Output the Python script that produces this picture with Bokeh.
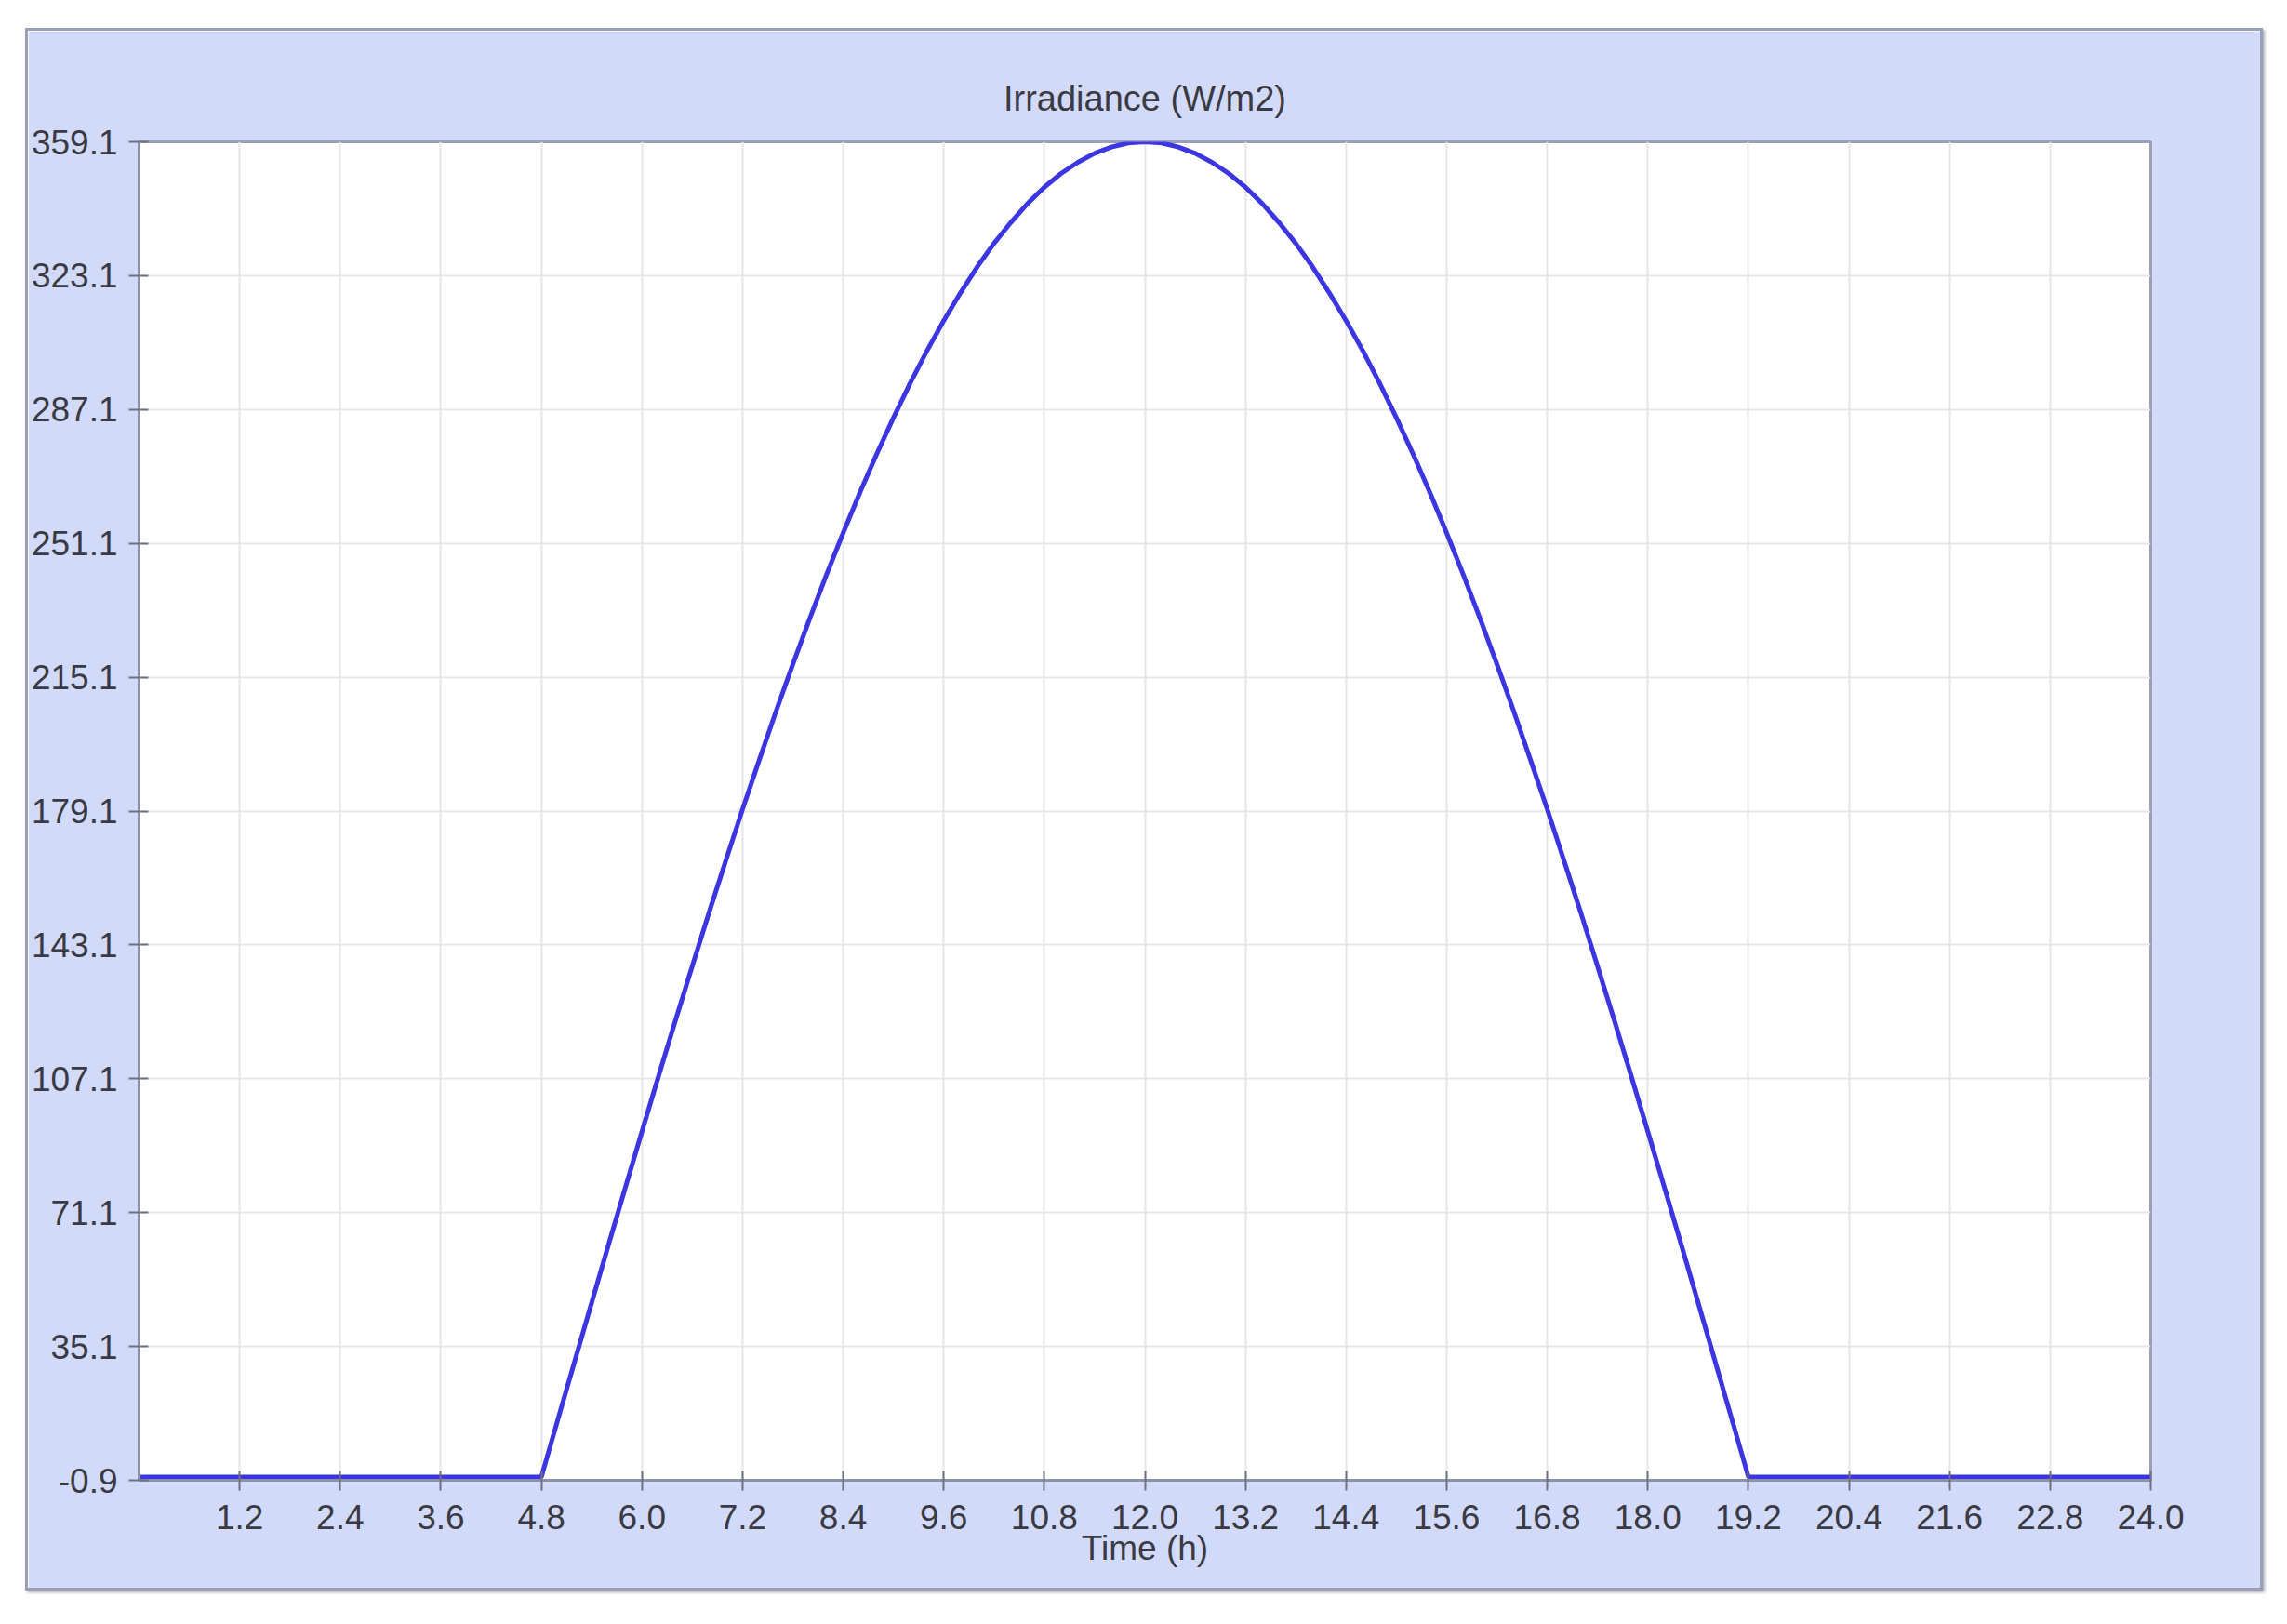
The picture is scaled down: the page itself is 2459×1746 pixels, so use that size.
from bokeh.plotting import figure
from bokeh.models import Range1d, FixedTicker
from bokeh.embed import file_html
from bokeh.resources import INLINE

# ---- data ----
hours = [0.0,
         4.8, 5.0, 5.2, 5.4, 5.6, 5.8, 6.0, 6.2, 6.4, 6.6, 6.8, 7.0, 7.2,
         7.4, 7.6, 7.8, 8.0, 8.2, 8.4, 8.6, 8.8, 9.0, 9.2, 9.4, 9.6, 9.8,
         10.0, 10.2, 10.4, 10.6, 10.8, 11.0, 11.2, 11.4, 11.6, 11.8, 12.0,
         12.2, 12.4, 12.6, 12.8, 13.0, 13.2, 13.4, 13.6, 13.8, 14.0, 14.2,
         14.4, 14.6, 14.8, 15.0, 15.2, 15.4, 15.6, 15.8, 16.0, 16.2, 16.4,
         16.6, 16.8, 17.0, 17.2, 17.4, 17.6, 17.8, 18.0, 18.2, 18.4, 18.6,
         18.8, 19.0, 19.2,
         24.0]
irradiance = [0,
              0, 15.7, 31.3, 46.9, 62.4, 77.7, 92.9, 108.0, 122.8, 137.4,
              151.8, 165.8, 179.6, 192.9, 206.0, 218.6, 230.8, 242.6, 253.9,
              264.8, 275.1, 284.9, 294.2, 302.9, 311.0, 318.5, 325.5, 331.8,
              337.4, 342.5, 346.9, 350.6, 353.6, 356.0, 357.7, 358.8, 359.1,
              358.8, 357.7, 356.0, 353.6, 350.6, 346.9, 342.5, 337.4, 331.8,
              325.5, 318.5, 311.0, 302.9, 294.2, 284.9, 275.1, 264.8, 253.9,
              242.6, 230.8, 218.6, 206.0, 192.9, 179.6, 165.8, 151.8, 137.4,
              122.8, 108.0, 92.9, 77.7, 62.4, 46.9, 31.3, 15.7, 0,
              0]

x_ticks = [1.2, 2.4, 3.6, 4.8, 6.0, 7.2, 8.4, 9.6, 10.8, 12.0, 13.2, 14.4,
           15.6, 16.8, 18.0, 19.2, 20.4, 21.6, 22.8, 24.0]
x_tick_labels = ["1.2", "2.4", "3.6", "4.8", "6.0", "7.2", "8.4", "9.6",
                 "10.8", "12.0", "13.2", "14.4", "15.6", "16.8", "18.0",
                 "19.2", "20.4", "21.6", "22.8", "24.0"]
y_ticks = [-0.9, 35.1, 71.1, 107.1, 143.1, 179.1, 215.1, 251.1, 287.1,
           323.1, 359.1]
y_tick_labels = ["-0.9", "35.1", "71.1", "107.1", "143.1", "179.1", "215.1",
                 "251.1", "287.1", "323.1", "359.1"]

title_text = "Irradiance (W/m2)"
x_label = "Time (h)"

TEXT = "#3a3a44"
FONT = "Liberation Sans"
FS = "37px"

p = figure(
    width=2406, height=1680,
    output_backend="svg", toolbar_location=None,
    x_range=Range1d(0, 24), y_range=Range1d(-0.9, 359.1),
    min_border_left=100, min_border_right=124,
    min_border_top=119, min_border_bottom=122,
    background_fill_color="white",
    border_fill_color="#D2DAFA",
    margin=(30, 0, 0, 27),
    styles={"border": "3px solid #9A9FB6",
            "box-shadow": "2px 2px 3px #A8AAB8"},
)

p.outline_line_color = "#9A9FB6"
p.outline_line_width = 3

# title
p.title.text = title_text
p.title.align = "center"
p.title.text_font = FONT
p.title.text_font_size = "38px"
p.title.text_font_style = "normal"
p.title.text_color = TEXT
p.title.standoff = 51

# x axis
p.xaxis.ticker = FixedTicker(ticks=x_ticks)
p.xaxis.major_label_overrides = {t: l for t, l in zip(x_ticks, x_tick_labels)}
p.xaxis.axis_label = x_label
p.xaxis.axis_label_text_font = FONT
p.xaxis.axis_label_text_font_size = FS
p.xaxis.axis_label_text_font_style = "normal"
p.xaxis.axis_label_text_color = TEXT
p.xaxis.axis_label_standoff = -3

# y axis
p.yaxis.ticker = FixedTicker(ticks=y_ticks)
p.yaxis.major_label_overrides = {t: l for t, l in zip(y_ticks, y_tick_labels)}

for ax in (p.xaxis, p.yaxis):
    ax.major_label_text_font = FONT
    ax.major_label_text_font_size = FS
    ax.major_label_text_color = TEXT
    ax.axis_line_color = "#8E92A6"
    ax.axis_line_width = 3
    ax.major_tick_line_color = "#6E7080"
    ax.major_tick_line_width = 2
    ax.major_tick_in = 10
    ax.major_tick_out = 11
    ax.minor_tick_line_color = None

p.xaxis.major_label_standoff = 15
p.yaxis.major_label_standoff = 12

p.xgrid.ticker = FixedTicker(ticks=x_ticks)
p.ygrid.ticker = FixedTicker(ticks=y_ticks)
p.grid.grid_line_color = "#E6E6E6"
p.grid.grid_line_width = 2

p.line(hours, irradiance, line_color="#3B36E2", line_width=5)

open("out.html", "w").write(file_html(p, INLINE))
